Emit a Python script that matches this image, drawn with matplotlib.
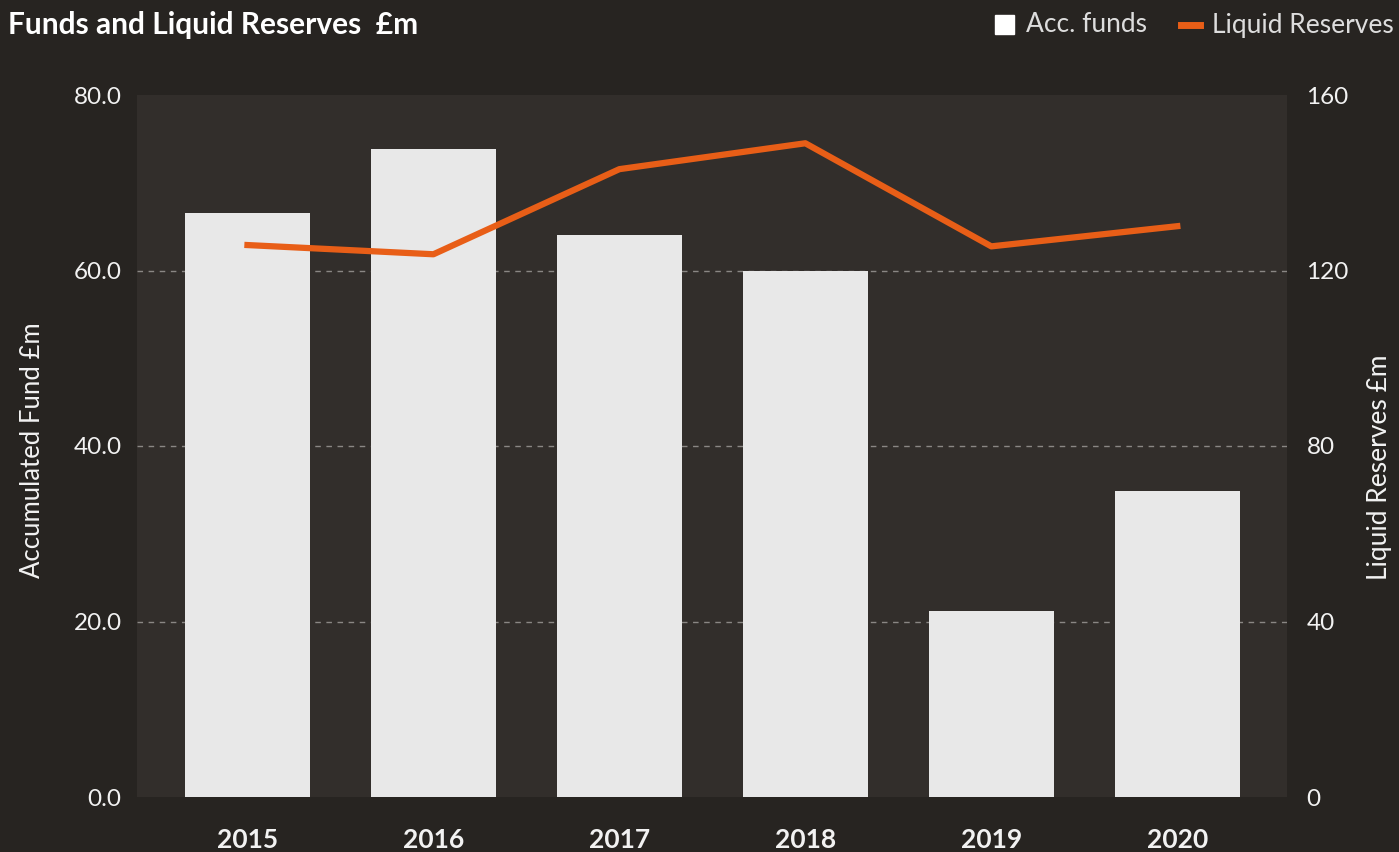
import matplotlib.pyplot as plt
import numpy as np

plt.rcParams['font.family'] = ['Lato', 'DejaVu Sans']

years = ['2015', '2016', '2017', '2018', '2019', '2020']
acc_funds = [66.5, 73.8, 64.1, 60.0, 21.2, 34.9]
liquid_reserves = [125.8, 123.7, 143.1, 149.0, 125.5, 130.1]

fig_bg = '#272421'
ax_bg = '#322e2b'
bar_col = '#e8e8e8'
line_col = '#e85e17'
txt_col = '#f2f2f2'

fig = plt.figure(figsize=(13.99, 8.52), dpi=100, facecolor=fig_bg)
ax = fig.add_axes([137 / 1399, 1 - 797 / 852, 1150 / 1399, 702 / 852])
ax.set_facecolor(ax_bg)
x = np.arange(len(years))

ax.bar(x, acc_funds, width=0.672, color=bar_col, zorder=2)
ax.set_ylim(0, 80)
ax.set_xlim(-0.594, 5.59)
ax.set_yticks([0, 20, 40, 60, 80])
ax.set_yticklabels([f'{v:.1f}' for v in [0, 20, 40, 60, 80]])
for v in [20, 40, 60]:
    ax.axhline(v, color='#8a8784', lw=1, ls=(0, (4, 4)), zorder=1)

ax2 = ax.twinx()
ax2.plot(x, liquid_reserves, color=line_col, lw=4.5, zorder=3)
ax2.set_ylim(0, 160)
ax2.set_yticks([0, 40, 80, 120, 160])

ax.set_xticks(x)
ax.set_xticklabels(years, fontsize=19, fontweight='bold', color=txt_col)
ax.tick_params(axis='x', length=0, pad=22)
ax.tick_params(axis='y', length=0, pad=11, labelsize=17.5, labelcolor=txt_col)
ax2.tick_params(axis='y', length=0, pad=14, labelsize=17.5, labelcolor=txt_col)
for a in (ax, ax2):
    for s in a.spines.values():
        s.set_visible(False)

fig.text(33 / 1399, 1 - 450 / 852, 'Accumulated Fund £m', rotation=90,
         ha='center', va='center', fontsize=18.5, color=txt_col)
fig.text(1380 / 1399, 1 - 467 / 852, 'Liquid Reserves £m', rotation=90,
         ha='center', va='center', fontsize=19, color=txt_col)

fig.text(8 / 1399, 1 - 25 / 852, 'Funds and Liquid Reserves  £m', ha='left',
         va='center', fontsize=21.5, fontweight='bold', color='white')

# legend drawn by hand in the header row
fig.patches.append(plt.Rectangle((995 / 1399, 1 - 34 / 852), 19 / 1399, 19 / 852,
                                 transform=fig.transFigure, color='white'))
fig.text(1026 / 1399, 1 - 25 / 852, 'Acc. funds', ha='left', va='center',
         fontsize=19, color='#dddddd')
fig.lines.append(plt.Line2D([1181 / 1399, 1200 / 1399], [1 - 25 / 852, 1 - 25 / 852],
                            transform=fig.transFigure, color=line_col, lw=5))
fig.text(1212 / 1399, 1 - 25 / 852, 'Liquid Reserves', ha='left', va='center',
         fontsize=19, color='#dddddd')

fig.savefig('out.png', dpi=100, facecolor=fig_bg)
